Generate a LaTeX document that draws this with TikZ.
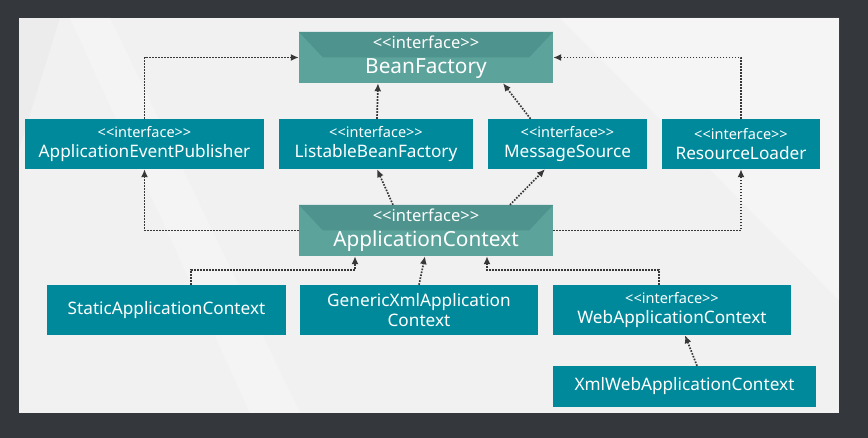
\documentclass[tikz,border=0pt]{standalone}
\usepackage{fontspec}
\setmainfont{Noto Sans}
\usepackage{tikz}
\usetikzlibrary{positioning,arrows.meta,shapes}

\definecolor{frame}{HTML}{34383C}
\definecolor{panel}{HTML}{F1F1F2}
\definecolor{classteal}{HTML}{00899A}
\definecolor{ifaceteal}{HTML}{5CA39C}
\definecolor{ifacedark}{HTML}{4E938D}
\definecolor{dotgray}{HTML}{383838}

\newcommand{\stereo}[1]{{\fontsize{#1}{#1}\selectfont <{}<interface>{}>}}

\begin{document}
\begin{tikzpicture}[x=1pt,y=-1pt,
    classbox/.style={rectangle,fill=classteal,text=white,align=center,inner sep=0pt,
        minimum height=50pt,font=\fontsize{17.2}{20}\selectfont},
    ifacebox/.style={rectangle,fill=ifaceteal,text=white,align=center,inner sep=0pt,
        minimum width=254pt,minimum height=51pt,font=\fontsize{20.8}{25}\selectfont,
        path picture={
            \fill[ifacedark] (path picture bounding box.north west)
                -- (path picture bounding box.north east)
                -- ([xshift=-24pt]path picture bounding box.east)
                -- ([xshift=24pt]path picture bounding box.west) -- cycle;}},
    dep/.style={-{Latex[length=8pt,width=7pt]},dotgray,line width=1.7pt,
        dash pattern=on 1.6pt off 1.4pt}]
    % Background
    \fill[frame] (0,0) rectangle (868,438);
    \fill[panel] (19,18) rectangle (839,413);
    \fill[white,opacity=0.25] (70,18) -- (110,18) -- (300,413) -- (250,413) -- cycle;
    \fill[black,opacity=0.02] (19,18) -- (60,18) -- (19,150) -- cycle;
    \fill[white,opacity=0.3] (560,18) -- (839,18) -- (839,300) -- cycle;
    \useasboundingbox (0,0) rectangle (868,438);

    % Top interface
    \node[ifacebox] (bean) at (426,57.5) {\stereo{16.5}\\BeanFactory};

    % Second row interfaces
    \node[classbox,minimum width=239pt] (publisher) at (144.5,144) {\stereo{14.5}\\ApplicationEventPublisher};
    \node[classbox,minimum width=194pt] (listable) at (376,144) {\stereo{14.5}\\ListableBeanFactory};
    \node[classbox,minimum width=159pt] (message) at (567.5,144) {\stereo{14.5}\\MessageSource};
    \node[classbox,minimum width=158pt] (resource) at (741,144) {\stereo{14.5}\\ResourceLoader};

    % Application context
    \node[ifacebox] (context) at (426,230.5) {\stereo{16.5}\\ApplicationContext};

    % Implementations
    \node[classbox,minimum width=239pt] (static) at (166.5,310) {StaticApplicationContext};
    \node[classbox,minimum width=238pt] (generic) at (419,310) {GenericXmlApplication\\Context};
    \node[classbox,minimum width=238pt] (webctx) at (672,310) {\stereo{14.5}\\WebApplicationContext};
    \node[classbox,minimum width=263pt,minimum height=41pt] (xmlweb) at (684.5,386.5) {XmlWebApplicationContext};

    % Arrows to BeanFactory
    \draw[dep] (publisher.north) |- (bean.west);
    \draw[dep] (resource.north) |- (bean.east);
    \draw[dep] ([xshift=1pt]listable.north) -- ([xshift=-48pt]bean.south);
    \draw[dep] ([xshift=-37pt]message.north) -- ([xshift=77pt]bean.south);

    % Arrows from ApplicationContext
    \draw[dep] (context.west) -| (publisher.south);
    \draw[dep] (context.east) -| (resource.south);
    \draw[dep] ([xshift=-33pt]context.north) -- ([xshift=1pt]listable.south);
    \draw[dep] ([xshift=84pt]context.north) -- ([xshift=-22.5pt]message.south);

    % Arrows to ApplicationContext
    \draw[dep] ([xshift=24.5pt]static.north) -- ++(0,-15) -| ([xshift=-71pt]context.south);
    \draw[dep] (generic.north) -- ([xshift=-1pt]context.south);
    \draw[dep] ([xshift=-13pt]webctx.north) -- ++(0,-15) -| ([xshift=61pt]context.south);
    \draw[dep] ([xshift=12.5pt]xmlweb.north) -- ([xshift=13pt]webctx.south);
\end{tikzpicture}
\end{document}
